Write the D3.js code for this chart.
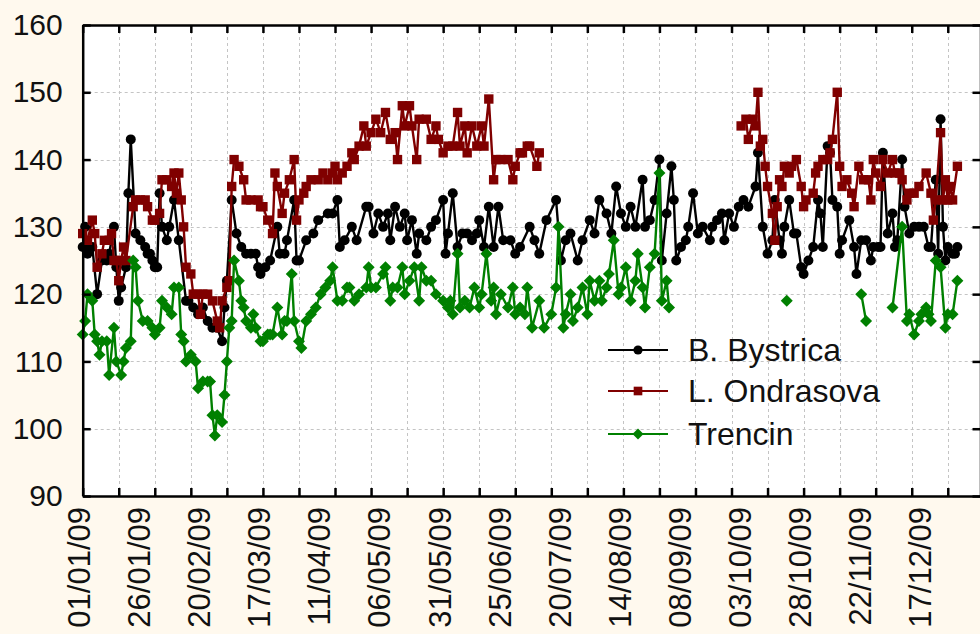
<!DOCTYPE html>
<html>
<head>
<meta charset="utf-8">
<script src="https://cdn.jsdelivr.net/npm/d3@7"></script>
<style>
  html, body { margin: 0; padding: 0; background: #fff9ee; }
  svg { display: block; font-family: "Liberation Sans", Arial, sans-serif; }
</style>
</head>
<body>
<svg width="980" height="634"></svg>
<script>
// x tick labels (every 25 days) and y ticks
var xLabels = ["01/01/09", "26/01/09", "20/02/09", "17/03/09", "11/04/09", "06/05/09", "31/05/09",
  "25/06/09", "20/07/09", "14/08/09", "08/09/09", "03/10/09", "28/10/09", "22/11/09", "17/12/09"];
var yTicks = [90, 100, 110, 120, 130, 140, 150, 160];
var seriesNames = ["B. Bystrica", "L. Ondrasova", "Trencin"];

// [day of year (0 = 01/01/09), value]; null = no data
var bystrica = [
  [0,127],[1,130],[2,126],[4,127],[6,120],[8,125],[10,125],[11,126],[13,130],[14,124],[15,119],[16,121],
  [18,124],[19,135],[20,143],[22,129],[24,128],[26,127],[27,126],[28,126],[29,125],[30,124],[31,124],
  [32,135],[33,130],[35,128],[36,130],[38,134],[40,128],[43,119],[44,119],[46,118],[48,117],[50,118],
  [52,116],[54,115],[56,115],[58,113],[59,118],[60,122],[62,134],[64,129],[66,127],[68,126],[70,126],
  [72,126],[73,124],[74,123],[76,124],[78,125],[81,130],[82,126],[84,126],[85,128],[88,134],[89,125],
  [90,125],[93,128],[96,129],[98,131],[102,132],[104,132],[106,134],[107,127],[109,128],[112,130],
  [114,128],[118,133],[119,133],[121,129],[123,132],[125,130],[127,132],[128,128],[130,133],[132,130],
  [134,132],[135,128],[137,131],[139,126],[140,129],[143,128],[145,130],[147,131],[150,134],[151,126],
  [152,129],[154,135],[156,127],[158,129],[160,129],[162,128],[164,129],[165,131],[167,127],[169,133],
  [171,127],[173,133],[175,128],[178,128],[180,126],[182,127],[186,130],[188,128],[190,126],[193,131],
  [197,134],[199,125],[201,128],[203,129],[206,125],[208,128],[211,131],[213,129],[215,134],[218,132],
  [220,129],[222,136],[224,132],[226,130],[228,133],[230,130],[233,137],[234,130],[236,131],[238,134],
  [240,140],[241,125],[243,132],[245,139],[246,134],[247,125],[249,127],[251,128],[252,130],[254,135],
  [256,129],[258,130],[261,128],[262,130],[264,131],[266,132],[267,128],[269,132],[271,130],[273,133],
  [275,134],[277,133],[280,136],[281,141],[283,130],[285,126],[287,128],[288,134],[290,128],[291,126],
  [292,130],[294,134],[296,129],[297,129],[299,124],[300,123],[302,125],[304,127],[306,134],[307,132],
  [308,127],[310,142],[311,141],[312,134],[314,133],[315,126],[316,128],[319,131],[321,127],[322,123],
  [324,128],[326,128],[328,125],[329,127],[331,127],[332,127],[333,141],[335,129],[337,132],[338,127],
  [339,128],[341,140],[342,133],[344,129],[346,130],[348,130],[350,130],[352,127],[353,127],[355,137],
  [356,126],[357,146],[358,130],[359,125],[360,127],[362,126],[363,126],[364,127]
];
var ondrasova = [
  [0,129],[2,128],[4,131],[5,129],[6,124],[8,126],[9,128],[11,128],[12,129],[13,125],[14,125],[15,122],
  [16,125],[17,127],[18,125],[21,133],[22,134],[24,134],[26,134],[27,133],[29,131],[30,131],[32,132],
  [33,137],[35,137],[37,136],[38,138],[39,135],[40,138],[41,134],[42,130],[43,124],[45,123],[46,120],
  [48,120],[49,117],[50,120],[52,120],[54,119],[56,116],[57,115],[58,119],[60,121],[61,122],[62,136],
  [63,140],[65,139],[67,137],[68,134],[70,134],[73,134],[74,133],[75,133],[77,131],[79,129],[80,138],
  [81,136],[83,132],[84,135],[86,137],[88,140],[89,131],[90,134],[92,135],[93,136],[95,137],[98,137],
  [100,138],[102,137],[104,138],[105,139],[106,137],[108,138],[110,139],[112,141],[113,140],[115,142],
  [117,145],[118,142],[120,144],[122,146],[124,144],[126,147],[128,143],[130,144],[131,140],[133,148],
  [134,145],[136,148],[137,145],[139,140],[140,146],[143,146],[145,143],[147,145],[148,143],[150,141],
  [152,142],[154,142],[156,147],[157,142],[159,145],[160,141],[162,145],[164,142],[166,145],[167,142],
  [169,149],[171,137],[172,140],[174,140],[177,140],[179,137],[180,139],[182,141],[183,141],[185,142],
  [186,142],[189,139],[190,141],[191,null],
  [274,145],[276,146],[277,143],[279,146],[280,145],[281,150],[282,142],[283,143],[284,139],[285,136],
  [287,132],[288,128],[289,133],[290,137],[291,136],[292,139],[294,138],[295,139],[297,140],[299,136],
  [300,133],[301,134],[304,135],[305,138],[306,139],[308,140],[310,140],[311,141],[312,143],[314,150],
  [315,139],[316,136],[318,137],[320,135],[321,133],[323,139],[325,137],[327,137],[328,134],[329,140],
  [330,138],[332,136],[333,140],[335,138],[337,140],[338,138],[340,138],[341,137],[343,134],[344,135],
  [346,135],[348,136],[351,138],[353,135],[354,131],[355,134],[357,144],[358,134],[359,137],[360,134],
  [361,136],[362,134],[364,139]
];
var trencin = [
  [0,114],[1,116],[2,120],[4,119],[5,114],[6,113],[7,111],[8,113],[10,113],[11,108],[13,115],[14,110],
  [16,108],[17,110],[18,112],[20,113],[21,125],[22,124],[23,119],[25,116],[27,116],[29,115],[30,114],
  [32,115],[33,119],[35,118],[37,117],[38,121],[40,121],[41,114],[42,113],[43,110],[45,111],[47,110],
  [48,106],[50,107],[52,107],[53,107],[54,102],[55,99],[56,102],[58,101],[59,105],[60,110],[61,115],
  [62,116],[63,125],[65,122],[66,119],[67,118],[68,116],[70,115],[71,117],[72,115],[74,113],[75,113],
  [77,114],[78,114],[79,114],[81,118],[83,114],[84,116],[85,116],[87,123],[88,116],[90,113],[91,112],
  [93,116],[95,117],[97,118],[99,120],[101,121],[103,122],[104,124],[106,119],[108,119],[110,121],
  [111,121],[113,119],[115,120],[118,121],[119,124],[120,121],[122,121],[125,123],[126,124],[128,119],
  [129,121],[131,121],[133,124],[134,120],[136,122],[138,124],[140,119],[141,124],[143,122],[145,122],
  [147,120],[150,119],[152,118],[153,119],[154,117],[156,126],[157,118],[159,119],[161,118],[163,121],
  [165,118],[166,120],[168,126],[170,119],[171,121],[172,117],[174,120],[177,118],[179,121],[180,117],
  [182,118],[184,117],[185,121],[187,115],[190,119],[192,115],[195,117],[197,121],[198,130],[200,115],
  [201,117],[203,120],[204,116],[206,118],[208,121],[210,117],[211,122],[213,119],[215,122],[216,119],
  [218,121],[219,123],[221,128],[223,120],[224,121],[226,124],[228,119],[230,122],[231,126],[233,121],
  [234,118],[236,124],[238,126],[240,138],[241,119],[243,122],[244,118],[245,null],
  [293,119],[294,null],
  [324,120],[326,116],[327,null],
  [337,118],[341,130],[343,116],[344,117],[346,114],[348,116],[349,117],[351,118],[352,117],[353,116],
  [355,125],[357,124],[359,115],[360,117],[362,117],[364,122]
];

var svg = d3.select("svg");
var margin = {top: 25, left: 82.7, bottom: 496, right: 980.5};
var start = new Date(Date.UTC(2009, 0, 1));
var dayDate = function(d) { return d3.utcDay.offset(start, d); };
var parseLabel = d3.utcParse("%d/%m/%y");

var x = d3.scaleUtc()
  .domain([start, dayDate(374)])
  .range([margin.left, margin.left + 2.403 * 374]);
var y = d3.scaleLinear().domain([90, 160]).range([margin.bottom, margin.top]);

// plot area
svg.append("rect")
  .attr("x", margin.left).attr("y", margin.top)
  .attr("width", 1000 - margin.left).attr("height", margin.bottom - margin.top)
  .attr("fill", "#ffffff");

var gridDays = d3.utcDay.range(start, dayDate(374), 15);

// grid
var grid = svg.append("g").attr("stroke", "#c4c4c4").attr("stroke-width", 1).attr("stroke-dasharray", "3,3");
grid.selectAll("line.v").data(gridDays.slice(1)).enter().append("line")
  .attr("x1", function(d) { return Math.round(x(d)) + 0.5; })
  .attr("x2", function(d) { return Math.round(x(d)) + 0.5; })
  .attr("y1", margin.top).attr("y2", margin.bottom);
grid.selectAll("line.h").data(yTicks.slice(1, -1)).enter().append("line")
  .attr("y1", function(d) { return Math.round(y(d)) + 0.5; })
  .attr("y2", function(d) { return Math.round(y(d)) + 0.5; })
  .attr("x1", margin.left).attr("x2", 980);

// series
var seriesData = [bystrica, ondrasova, trencin];
var colors = ["#000000", "#800000", "#008000"];
// circle, square, diamond (a square turned 45 degrees)
var symbols = [d3.symbolCircle, d3.symbolSquare, d3.symbolSquare];
var symSizes = [78, 88, 72];
var symRotate = [0, 0, 45];

var line = d3.line()
  .defined(function(d) { return d[1] != null; })
  .x(function(d) { return x(dayDate(d[0])); })
  .y(function(d) { return y(d[1]); });

seriesData.forEach(function(data, i) {
  var g = svg.append("g");
  g.append("path")
    .attr("d", line(data))
    .attr("fill", "none")
    .attr("stroke", colors[i])
    .attr("stroke-width", 2.4);
  g.selectAll("path.pt")
    .data(data.filter(function(d) { return d[1] != null; }))
    .enter().append("path")
    .attr("class", "pt")
    .attr("transform", function(d) {
      return "translate(" + x(dayDate(d[0])) + "," + y(d[1]) + ") rotate(" + symRotate[i] + ")";
    })
    .attr("d", d3.symbol().type(symbols[i]).size(symSizes[i]))
    .attr("fill", colors[i]);
});

// axes (ticks point inward)
function styleAxis(g) {
  g.selectAll(".domain").attr("stroke", "#000").attr("stroke-width", 2.5);
  g.selectAll(".tick line").attr("stroke", "#000").attr("stroke-width", 2.5);
}
svg.append("g").attr("transform", "translate(0," + margin.bottom + ")")
  .call(d3.axisBottom(x).tickValues(gridDays).tickSizeInner(-8).tickSizeOuter(0).tickFormat(""))
  .call(styleAxis);
svg.append("g").attr("transform", "translate(0," + margin.top + ")")
  .call(d3.axisTop(x).tickValues(gridDays).tickSizeInner(-8).tickSizeOuter(0).tickFormat(""))
  .call(styleAxis);
svg.append("g").attr("transform", "translate(" + margin.left + ",0)")
  .call(d3.axisLeft(y).tickValues(yTicks).tickSizeInner(-8).tickSizeOuter(0).tickPadding(20))
  .call(styleAxis)
  .selectAll("text").attr("font-size", 30).attr("fill", "#111").attr("font-family", "Liberation Sans, Arial, sans-serif");
svg.append("g").attr("transform", "translate(" + margin.right + ",0)")
  .call(d3.axisRight(y).tickValues(yTicks).tickSizeInner(-8).tickSizeOuter(0).tickFormat(""))
  .call(styleAxis);

// rotated date labels
var labelAxis = svg.append("g").attr("transform", "translate(-4," + margin.bottom + ")")
  .call(d3.axisBottom(x).tickValues(xLabels.map(parseLabel)).tickSize(0).tickFormat(d3.utcFormat("%d/%m/%y")));
labelAxis.select(".domain").remove();
labelAxis.selectAll("text")
  .attr("font-size", 31).attr("fill", "#111").attr("font-family", "Liberation Sans, Arial, sans-serif")
  .attr("text-anchor", "end")
  .attr("transform", "rotate(-90)")
  .attr("x", -11).attr("y", 0).attr("dy", "0.35em");

// legend
var legend = svg.append("g").attr("transform", "translate(608,350)");
seriesNames.forEach(function(name, i) {
  var row = legend.append("g").attr("transform", "translate(0," + [0, 41, 84][i] + ")");
  row.append("line").attr("x1", 0).attr("x2", 60).attr("stroke", colors[i]).attr("stroke-width", 2.2);
  row.append("path").attr("transform", "translate(30,0) rotate(" + symRotate[i] + ")")
    .attr("d", d3.symbol().type(symbols[i]).size(symSizes[i] * 0.85)).attr("fill", colors[i]);
  row.append("text").attr("x", 80).attr("dy", "0.35em")
    .attr("font-size", 32).attr("fill", "#111").text(name);
});
</script>
</body>
</html>
